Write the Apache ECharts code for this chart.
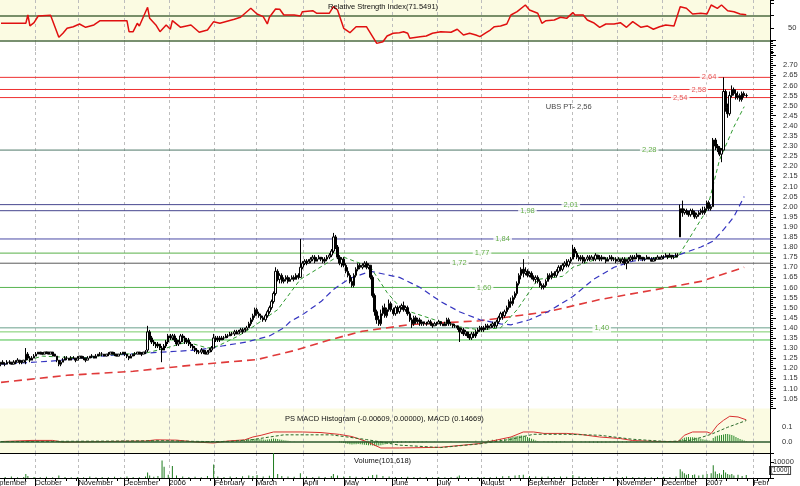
<!DOCTYPE html>
<html><head><meta charset="utf-8">
<script src="https://cdn.jsdelivr.net/npm/echarts@6/dist/echarts.min.js"></script>
<style>html,body{margin:0;padding:0;background:#fff}#c{width:800px;height:486px}</style>
</head><body><div id="c"></div>
<script>
// ---------- categories: trading days (weekdays) shown on the axis ----------
const firstDay = '2005-09-08', lastDay = '2007-02-12';
const categories = [];
for (let t = Date.parse(firstDay + 'T00:00:00Z'); t <= Date.parse(lastDay + 'T00:00:00Z'); t += 86400000) {
  const d = new Date(t), w = d.getUTCDay();
  if (w > 0 && w < 6) categories.push(d.toISOString().slice(0, 10));
}
const monthNames = ['January','February','March','April','May','June','July','August','September','October','November','December'];
const leadLabelDay = '2005-09-27';   // label for the month already running at the left edge (ends here)
const cutLabelDay = '2007-02-01';    // last month label, cut by the plot edge

// ---------- price candles [open, close, low, high] ----------
const candles = [
[1.22,1.23,1.21,1.23],[1.23,1.22,1.22,1.24],[1.22,1.22,1.21,1.23],[1.22,1.23,1.22,1.24],[1.23,1.23,1.22,1.24],[1.23,1.22,1.22,1.23],[1.22,1.23,1.22,1.24],[1.23,1.23,1.22,1.24],[1.23,1.24,1.23,1.25],[1.24,1.23,1.22,1.24],
[1.23,1.23,1.22,1.24],[1.23,1.24,1.23,1.24],[1.24,1.27,1.22,1.30],[1.27,1.25,1.24,1.28],[1.25,1.24,1.23,1.26],[1.24,1.25,1.24,1.26],[1.25,1.26,1.25,1.27],[1.26,1.27,1.26,1.28],[1.27,1.28,1.27,1.28],[1.28,1.27,1.27,1.28],
[1.27,1.27,1.27,1.28],[1.27,1.28,1.27,1.28],[1.28,1.28,1.27,1.28],[1.28,1.27,1.27,1.28],[1.27,1.28,1.27,1.28],[1.28,1.27,1.26,1.28],[1.27,1.26,1.26,1.27],[1.26,1.24,1.23,1.26],[1.24,1.22,1.21,1.24],[1.22,1.23,1.21,1.24],
[1.23,1.24,1.23,1.25],[1.24,1.25,1.24,1.26],[1.25,1.25,1.24,1.26],[1.25,1.24,1.24,1.25],[1.24,1.25,1.24,1.26],[1.25,1.25,1.25,1.26],[1.25,1.24,1.23,1.25],[1.24,1.25,1.24,1.26],[1.25,1.26,1.25,1.26],[1.26,1.25,1.25,1.26],
[1.25,1.25,1.24,1.26],[1.25,1.24,1.23,1.25],[1.24,1.25,1.24,1.26],[1.25,1.26,1.25,1.26],[1.26,1.26,1.25,1.27],[1.26,1.25,1.25,1.26],[1.25,1.26,1.25,1.27],[1.26,1.27,1.26,1.27],[1.27,1.27,1.26,1.28],[1.27,1.27,1.26,1.28],
[1.27,1.26,1.26,1.27],[1.26,1.27,1.26,1.27],[1.27,1.27,1.26,1.28],[1.27,1.28,1.27,1.28],[1.28,1.27,1.27,1.28],[1.27,1.27,1.26,1.28],[1.27,1.26,1.26,1.27],[1.26,1.27,1.26,1.27],[1.27,1.27,1.27,1.28],[1.27,1.28,1.27,1.28],
[1.28,1.27,1.26,1.28],[1.27,1.26,1.25,1.27],[1.26,1.25,1.24,1.26],[1.25,1.26,1.25,1.27],[1.26,1.27,1.26,1.27],[1.27,1.27,1.26,1.28],[1.27,1.28,1.27,1.28],[1.28,1.27,1.27,1.28],[1.27,1.27,1.26,1.28],[1.27,1.28,1.27,1.28],
[1.28,1.28,1.27,1.29],[1.29,1.38,1.28,1.41],[1.38,1.35,1.34,1.39],[1.35,1.33,1.32,1.36],[1.33,1.32,1.31,1.34],[1.32,1.31,1.30,1.33],[1.31,1.32,1.30,1.33],[1.32,1.30,1.29,1.32],[1.30,1.29,1.23,1.31],[1.29,1.31,1.29,1.32],
[1.31,1.33,1.30,1.34],[1.33,1.36,1.32,1.37],[1.36,1.35,1.34,1.37],[1.35,1.36,1.34,1.37],[1.36,1.34,1.33,1.37],[1.34,1.32,1.31,1.35],[1.32,1.33,1.31,1.34],[1.33,1.36,1.32,1.37],[1.36,1.35,1.33,1.37],[1.35,1.33,1.32,1.36],
[1.33,1.34,1.32,1.35],[1.34,1.32,1.31,1.35],[1.32,1.31,1.30,1.33],[1.31,1.30,1.29,1.32],[1.30,1.29,1.28,1.31],[1.29,1.28,1.27,1.30],[1.28,1.28,1.27,1.29],[1.28,1.29,1.27,1.30],[1.29,1.28,1.27,1.29],[1.28,1.27,1.27,1.29],
[1.27,1.28,1.27,1.29],[1.28,1.29,1.28,1.30],[1.29,1.30,1.28,1.31],[1.30,1.35,1.30,1.37],[1.35,1.34,1.33,1.36],[1.34,1.35,1.33,1.36],[1.35,1.34,1.33,1.36],[1.34,1.35,1.34,1.36],[1.35,1.35,1.34,1.36],[1.35,1.36,1.35,1.37],
[1.36,1.36,1.35,1.37],[1.36,1.37,1.36,1.38],[1.37,1.37,1.36,1.38],[1.37,1.38,1.36,1.39],[1.38,1.37,1.37,1.39],[1.37,1.38,1.37,1.39],[1.38,1.39,1.38,1.40],[1.39,1.38,1.37,1.40],[1.38,1.39,1.38,1.40],[1.39,1.40,1.39,1.41],
[1.40,1.42,1.40,1.43],[1.42,1.44,1.41,1.45],[1.44,1.46,1.43,1.47],[1.46,1.49,1.45,1.50],[1.49,1.47,1.46,1.50],[1.47,1.46,1.45,1.48],[1.46,1.45,1.44,1.47],[1.45,1.44,1.43,1.46],[1.44,1.46,1.43,1.47],[1.46,1.48,1.45,1.49],
[1.48,1.50,1.47,1.51],[1.50,1.53,1.49,1.54],[1.53,1.57,1.52,1.58],[1.57,1.68,1.56,1.70],[1.68,1.64,1.63,1.69],[1.64,1.66,1.62,1.67],[1.66,1.63,1.62,1.67],[1.63,1.64,1.62,1.65],[1.64,1.65,1.63,1.66],[1.65,1.63,1.62,1.66],
[1.63,1.64,1.63,1.65],[1.64,1.65,1.64,1.66],[1.65,1.64,1.63,1.66],[1.64,1.66,1.64,1.67],[1.66,1.65,1.64,1.67],[1.65,1.70,1.65,1.84],[1.70,1.72,1.69,1.73],[1.72,1.73,1.71,1.74],[1.73,1.72,1.71,1.74],[1.72,1.73,1.72,1.74],
[1.73,1.74,1.72,1.75],[1.74,1.75,1.73,1.76],[1.75,1.73,1.72,1.76],[1.73,1.74,1.73,1.75],[1.74,1.75,1.74,1.76],[1.75,1.74,1.73,1.75],[1.74,1.73,1.72,1.75],[1.73,1.74,1.72,1.75],[1.74,1.75,1.73,1.76],[1.75,1.76,1.74,1.77],
[1.76,1.78,1.75,1.79],[1.78,1.85,1.77,1.87],[1.85,1.80,1.79,1.86],[1.80,1.75,1.74,1.81],[1.75,1.72,1.71,1.76],[1.72,1.74,1.70,1.75],[1.74,1.71,1.70,1.75],[1.71,1.68,1.67,1.72],[1.68,1.66,1.65,1.70],[1.66,1.63,1.62,1.67],
[1.63,1.61,1.60,1.65],[1.61,1.66,1.60,1.67],[1.66,1.69,1.65,1.70],[1.69,1.71,1.68,1.72],[1.71,1.70,1.69,1.72],[1.70,1.71,1.69,1.72],[1.71,1.72,1.70,1.73],[1.72,1.70,1.69,1.73],[1.70,1.71,1.69,1.72],[1.71,1.65,1.64,1.71],
[1.65,1.56,1.55,1.66],[1.56,1.48,1.46,1.57],[1.48,1.44,1.42,1.49],[1.44,1.42,1.41,1.46],[1.42,1.47,1.41,1.49],[1.47,1.50,1.46,1.51],[1.50,1.46,1.45,1.52],[1.46,1.49,1.45,1.50],[1.49,1.52,1.48,1.54],[1.52,1.49,1.48,1.53],
[1.49,1.47,1.46,1.50],[1.47,1.50,1.46,1.51],[1.50,1.48,1.47,1.51],[1.48,1.50,1.47,1.51],[1.50,1.51,1.49,1.52],[1.51,1.49,1.48,1.53],[1.49,1.50,1.48,1.51],[1.50,1.47,1.46,1.51],[1.47,1.44,1.43,1.48],[1.44,1.42,1.40,1.45],
[1.42,1.45,1.41,1.46],[1.45,1.43,1.42,1.46],[1.43,1.44,1.42,1.45],[1.44,1.42,1.41,1.45],[1.42,1.43,1.41,1.44],[1.43,1.42,1.41,1.43],[1.42,1.42,1.41,1.43],[1.42,1.43,1.42,1.44],[1.43,1.42,1.41,1.44],[1.42,1.41,1.40,1.42],
[1.41,1.42,1.41,1.43],[1.42,1.42,1.41,1.43],[1.42,1.43,1.42,1.44],[1.43,1.42,1.41,1.43],[1.42,1.41,1.41,1.42],[1.41,1.42,1.41,1.43],[1.42,1.44,1.41,1.45],[1.44,1.42,1.41,1.45],[1.42,1.42,1.41,1.43],[1.42,1.41,1.40,1.42],
[1.41,1.41,1.40,1.42],[1.41,1.40,1.39,1.41],[1.40,1.38,1.33,1.40],[1.38,1.39,1.37,1.40],[1.39,1.37,1.36,1.40],[1.37,1.38,1.36,1.39],[1.38,1.36,1.35,1.38],[1.36,1.35,1.34,1.37],[1.35,1.37,1.34,1.38],[1.37,1.36,1.35,1.38],
[1.36,1.38,1.35,1.39],[1.38,1.39,1.37,1.40],[1.39,1.40,1.38,1.41],[1.40,1.39,1.38,1.41],[1.39,1.40,1.38,1.41],[1.40,1.41,1.39,1.42],[1.41,1.40,1.39,1.42],[1.40,1.41,1.40,1.42],[1.41,1.42,1.40,1.43],[1.42,1.41,1.40,1.43],
[1.41,1.43,1.40,1.44],[1.43,1.45,1.42,1.46],[1.45,1.47,1.44,1.48],[1.47,1.46,1.44,1.48],[1.46,1.48,1.45,1.49],[1.48,1.50,1.47,1.51],[1.50,1.53,1.49,1.54],[1.53,1.52,1.50,1.55],[1.52,1.55,1.51,1.56],[1.55,1.57,1.54,1.58],
[1.57,1.62,1.56,1.63],[1.62,1.66,1.61,1.67],[1.66,1.69,1.64,1.70],[1.69,1.67,1.65,1.74],[1.67,1.68,1.66,1.70],[1.68,1.66,1.65,1.69],[1.66,1.67,1.65,1.68],[1.67,1.65,1.64,1.68],[1.65,1.64,1.63,1.66],[1.64,1.65,1.62,1.66],
[1.65,1.63,1.62,1.66],[1.63,1.61,1.60,1.64],[1.61,1.60,1.59,1.62],[1.60,1.61,1.59,1.62],[1.61,1.63,1.60,1.64],[1.63,1.66,1.63,1.67],[1.66,1.65,1.64,1.67],[1.65,1.67,1.64,1.68],[1.67,1.66,1.65,1.68],[1.66,1.68,1.65,1.69],
[1.68,1.70,1.67,1.71],[1.70,1.69,1.68,1.71],[1.69,1.71,1.68,1.72],[1.71,1.72,1.70,1.73],[1.72,1.71,1.70,1.74],[1.71,1.73,1.70,1.74],[1.73,1.74,1.72,1.75],[1.74,1.79,1.74,1.81],[1.79,1.77,1.75,1.80],[1.77,1.75,1.74,1.78],
[1.75,1.74,1.73,1.76],[1.74,1.75,1.73,1.76],[1.75,1.73,1.72,1.76],[1.73,1.74,1.72,1.75],[1.74,1.75,1.73,1.76],[1.75,1.74,1.73,1.76],[1.74,1.75,1.74,1.76],[1.75,1.74,1.73,1.75],[1.74,1.76,1.73,1.77],[1.76,1.75,1.74,1.76],
[1.75,1.74,1.73,1.76],[1.74,1.75,1.73,1.76],[1.75,1.74,1.74,1.75],[1.74,1.73,1.72,1.75],[1.73,1.74,1.73,1.75],[1.74,1.75,1.74,1.76],[1.75,1.74,1.73,1.76],[1.74,1.74,1.73,1.75],[1.74,1.73,1.72,1.75],[1.73,1.74,1.73,1.75],
[1.74,1.73,1.72,1.74],[1.73,1.74,1.72,1.75],[1.74,1.72,1.71,1.75],[1.72,1.73,1.69,1.74],[1.73,1.74,1.72,1.75],[1.74,1.75,1.73,1.76],[1.75,1.74,1.73,1.76],[1.74,1.75,1.74,1.76],[1.75,1.76,1.74,1.77],[1.76,1.74,1.73,1.76],
[1.74,1.75,1.74,1.76],[1.75,1.74,1.73,1.75],[1.74,1.74,1.73,1.75],[1.74,1.75,1.74,1.76],[1.75,1.74,1.74,1.75],[1.74,1.73,1.73,1.75],[1.73,1.74,1.73,1.75],[1.74,1.74,1.73,1.75],[1.74,1.75,1.74,1.76],[1.75,1.74,1.74,1.75],
[1.74,1.75,1.74,1.76],[1.75,1.75,1.74,1.76],[1.75,1.76,1.75,1.77],[1.76,1.75,1.74,1.76],[1.75,1.76,1.75,1.77],[1.76,1.75,1.74,1.76],[1.75,1.75,1.74,1.76],[1.75,1.76,1.75,1.77],[1.76,1.76,1.75,1.77],[1.85,1.99,1.85,2.01],
[1.99,1.97,1.95,2.03],[1.97,1.98,1.96,1.99],[1.98,1.97,1.96,1.99],[1.97,1.96,1.95,1.98],[1.96,1.98,1.95,1.99],[1.98,1.97,1.96,1.99],[1.97,1.95,1.94,1.98],[1.95,1.96,1.94,1.97],[1.96,1.97,1.95,1.98],[1.97,1.98,1.96,1.99],
[1.98,1.97,1.96,2.00],[1.97,1.99,1.96,2.00],[1.99,2.02,1.98,2.03],[2.02,1.99,1.98,2.03],[1.99,2.00,1.98,2.01],[2.00,2.33,2.00,2.34],[2.33,2.30,2.28,2.34],[2.30,2.29,2.27,2.31],[2.29,2.26,2.25,2.30],[2.26,2.28,2.22,2.29],
[2.28,2.57,2.28,2.64],[2.57,2.49,2.47,2.58],[2.49,2.46,2.44,2.51],[2.46,2.55,2.45,2.57],[2.55,2.58,2.54,2.60],[2.58,2.56,2.55,2.59],[2.56,2.54,2.53,2.58],[2.54,2.55,2.53,2.57],[2.55,2.53,2.52,2.56],[2.53,2.56,2.52,2.57],
[2.56,2.55,2.54,2.57],[2.55,2.55,2.54,2.56]
];

// ---------- moving averages [day index, price] ----------
const maShort = [[10,1.23],[20,1.26],[30,1.255],[40,1.25],[50,1.265],[60,1.27],[70,1.275],[80,1.30],[90,1.33],[100,1.30],[105,1.31],[115,1.36],[122,1.405],[134,1.49],[145,1.64],[161,1.74],[166,1.75],[179,1.70],[187,1.575],[193,1.505],[198,1.48],[210,1.44],[222,1.405],[232,1.39],[242,1.40],[250,1.49],[260,1.64],[272,1.655],[277,1.70],[290,1.745],[310,1.745],[328,1.75],[329,1.77],[342,1.985],[348,2.23],[355,2.395],[360,2.495]];
const maMid = [[0,1.22],[24,1.235],[48,1.26],[62,1.27],[78,1.28],[95,1.29],[107,1.31],[119,1.33],[130,1.36],[137,1.40],[140,1.43],[146,1.465],[155,1.53],[161,1.59],[169,1.645],[179,1.68],[193,1.65],[203,1.60],[213,1.53],[222,1.48],[232,1.44],[242,1.42],[247,1.415],[256,1.44],[265,1.48],[277,1.555],[287,1.64],[297,1.70],[306,1.73],[328,1.76],[339,1.80],[345,1.83],[350,1.886],[355,1.95],[360,2.05]];
const maLong = [[0,1.13],[32,1.165],[64,1.185],[95,1.218],[124,1.243],[143,1.29],[159,1.34],[175,1.383],[198,1.416],[232,1.435],[265,1.48],[290,1.54],[323,1.60],[339,1.63],[360,1.70]];

// ---------- horizontal levels and their notes ----------
const levelValues = [2.64, 2.58, 2.54, 2.28, 2.01, 1.98, 1.84, 1.77, 1.72, 1.60, 1.40, 1.38, 1.34];
const levelLabels = ['2,64','2,58','2,54','2,28','2,01','1,98','1,84','1,77','1,72','1,60','1,40','',''];
const levelLabelDays = [343, 338, 329, 314, 276, 255, 243, 233, 222, 234, 291, null, null];
const noteText = 'UBS PT- 2,56', noteDay = 275, notePrice = 2.494;

// ---------- RSI [day index, value] ----------
const rsi = [[0,57.6],[12,57.6],[13,71.1],[14,53.3],[16,58.6],[18,69.5],[24,70.6],[28,34.9],[30,41.4],[32,49.5],[35,52.1],[38,56.5],[41,51.1],[45,54.9],[48,61.9],[61,61.9],[62,44],[64,44],[66,57.6],[67,53.3],[71,83.6],[72,65.7],[75,54.9],[77,44],[80,54.9],[82,47.9],[83,61.9],[87,51.1],[92,54.9],[96,43],[100,46.7],[103,60.3],[106,57.6],[113,64.1],[116,67.4],[121,82],[124,72.8],[127,68.4],[129,56.5],[130,67.4],[133,80.9],[135,80.4],[137,71.1],[142,71.1],[145,69.5],[146,76.5],[151,78.1],[153,73.9],[159,73.9],[161,84.6],[163,79.3],[166,49.5],[169,42.4],[172,52.1],[177,52.1],[182,25],[185,27.7],[187,37],[190,41.4],[193,42.4],[195,44],[197,41.4],[198,33.2],[203,35.9],[206,37],[209,41.4],[213,44],[218,43],[221,47.9],[224,38.6],[227,41.4],[230,38.6],[232,35.9],[235,42.4],[237,46.7],[239,52.1],[242,53.3],[245,56.5],[247,71.1],[250,76.5],[254,87.4],[256,79.3],[260,73.9],[262,57.6],[264,61.9],[268,63],[271,67.4],[274,65.7],[277,75],[278,71.1],[282,71.1],[284,63],[287,58.6],[290,51.1],[293,56.5],[297,56.5],[300,58.6],[303,51.1],[306,60.3],[310,51.1],[313,53.3],[316,47.9],[319,52.1],[322,54.9],[326,53.3],[329,84.6],[332,82],[335,72.8],[339,73.9],[342,72.8],[344,87.4],[347,82],[349,87.4],[352,78.1],[355,76.5],[358,72.8],[361,71.5]];
const rsiLevels = [70, 30];

// ---------- MACD ----------
const macd = [[0,0.0],[15,0.008],[25,0.008],[30,-0.004],[50,0.0],[70,0.004],[75,0.012],[85,0.01],[95,-0.004],[103,-0.01],[110,0.004],[118,0.012],[122,0.032],[126,0.044],[132,0.067],[146,0.067],[155,0.063],[164,0.05],[170,0.035],[177,0.0],[184,-0.045],[193,-0.045],[213,-0.04],[232,-0.014],[247,0.032],[253,0.067],[258,0.067],[263,0.057],[274,0.057],[280,0.051],[290,0.032],[300,0.021],[306,0.007],[319,0.0],[328,0.0],[331,0.044],[335,0.067],[342,0.067],[344,0.056],[347,0.114],[350,0.149],[353,0.177],[357,0.172],[361,0.152]];
const macdSignal = [[0,0.0],[50,0.003],[80,0.006],[100,0.0],[110,0.0],[122,0.014],[137,0.047],[160,0.047],[177,0.014],[193,-0.025],[213,-0.042],[232,-0.016],[247,0.016],[258,0.051],[274,0.051],[290,0.044],[306,0.016],[323,0.0],[333,0.007],[339,0.028],[344,0.051],[352,0.10],[361,0.147]];
const macdHist = [[12,0.004],[13,0.006],[14,0.004],[15,0.003],[28,-0.004],[29,-0.005],[30,-0.004],[31,-0.003],[72,0.004],[73,0.005],[74,0.004],[75,0.006],[76,0.005],[77,0.003],[86,-0.003],[87,-0.004],[92,-0.003],[96,-0.005],[97,-0.006],[98,-0.005],[99,-0.006],[100,-0.004],[101,-0.003],
[105,0.003],[106,0.004],[108,0.005],[110,0.006],[112,0.008],[114,0.01],[116,0.009],[118,0.011],[119,0.012],[120,0.014],[121,0.016],[122,0.018],[123,0.02],[124,0.019],[125,0.017],[126,0.016],[127,0.014],[128,0.013],[129,0.015],[130,0.017],[131,0.019],[132,0.022],[133,0.02],[134,0.018],[135,0.015],[136,0.012],[137,0.01],[138,0.008],[139,0.006],[140,0.004],[142,0.003],
[164,-0.004],[165,-0.007],[166,-0.01],[167,-0.013],[168,-0.016],[169,-0.018],[170,-0.02],[171,-0.019],[172,-0.018],[173,-0.017],[174,-0.018],[175,-0.02],[176,-0.022],[177,-0.024],[178,-0.025],[179,-0.026],[180,-0.028],[181,-0.03],[182,-0.03],[183,-0.028],[184,-0.025],[185,-0.022],[186,-0.019],[187,-0.016],[188,-0.014],[189,-0.012],[190,-0.01],[192,-0.008],[194,-0.006],[196,-0.005],[198,-0.006],[200,-0.007],[202,-0.006],[204,-0.004],[206,-0.003],[210,0.002],[214,0.003],[218,0.004],[222,0.002],[226,0.004],[230,0.006],[233,0.008],[236,0.01],[238,0.012],[240,0.014],[242,0.018],[244,0.022],[246,0.027],[247,0.03],[248,0.033],[249,0.036],[250,0.039],[251,0.041],[252,0.042],[253,0.04],[254,0.036],[255,0.032],[256,0.026],[257,0.02],[258,0.014],[259,0.008],[260,0.004],
[263,-0.003],[265,-0.004],[267,-0.005],[269,-0.006],[271,-0.004],[273,-0.003],[276,0.003],[277,0.005],[278,0.004],[281,-0.004],[283,-0.005],[285,-0.006],[287,-0.007],[289,-0.008],[291,-0.007],[293,-0.006],[295,-0.005],[297,-0.004],[299,-0.004],[301,-0.005],[303,-0.004],[305,-0.003],[308,-0.003],[311,-0.002],[314,0.002],[317,0.002],[320,0.003],[323,0.002],[326,0.003],
[329,0.012],[330,0.02],[331,0.026],[332,0.03],[333,0.032],[334,0.031],[335,0.03],[336,0.028],[337,0.026],[338,0.022],[339,0.02],[340,0.016],[341,0.012],[342,0.01],[343,0.008],[344,0.006],[345,0.025],[346,0.035],[347,0.04],[348,0.044],[349,0.046],[350,0.05],[351,0.052],[352,0.052],[353,0.05],[354,0.046],[355,0.04],[356,0.032],[357,0.025],[358,0.018],[359,0.012],[360,0.008],[361,0.004]];

// ---------- volume (x1000) ----------
const volume = [[2,600],[5,900],[8,500],[11,700],[12,2500],[13,1200],[16,600],[19,400],[22,800],[25,500],[28,1500],[31,600],[34,400],[37,700],[40,500],[43,900],[46,400],[49,600],[52,500],[55,800],[58,400],[61,1000],[64,600],[67,500],[70,900],[71,3500],[72,1500],[74,800],[76,1200],[78,11000],[79,7000],[81,2000],[83,7500],[85,1500],[88,900],[91,600],[94,800],[97,500],[100,1200],[103,8500],[105,1000],[108,700],[111,900],[114,600],[117,1100],[120,1500],[122,1200],[124,1800],[127,1000],[130,1400],[132,20000],[134,2500],[136,1200],[139,900],[142,800],[145,3000],[148,1000],[151,700],[154,900],[157,600],[160,1200],[161,2500],[163,1500],[166,1000],[169,1200],[172,800],[175,600],[178,900],[180,1800],[182,2000],[185,1300],[188,900],[191,700],[194,600],[197,800],[200,700],[203,500],[206,600],[209,400],[212,700],[215,500],[218,600],[221,800],[222,1500],[225,700],[228,500],[231,600],[234,700],[237,500],[240,800],[243,1100],[246,1300],[249,1500],[251,1800],[253,2000],[256,1200],[259,900],[262,800],[265,1000],[268,700],[271,900],[274,800],[277,1800],[280,900],[283,600],[286,700],[289,500],[292,600],[295,800],[298,500],[301,700],[303,1000],[306,600],[309,500],[312,700],[315,500],[318,600],[321,800],[324,700],[327,900],[329,5500],[330,4000],[331,3000],[332,2000],[333,2500],[335,1800],[336,2200],[338,1500],[340,2000],[342,2500],[344,3000],[345,8000],[346,4000],[347,2500],[348,3000],[349,2000],[350,5000],[351,3500],[352,2500],[353,2000],[354,2500],[355,1500],[357,2000],[359,1200],[361,1800]];

// ---------- styles ----------
const FONT = 'Liberation Sans, Arial, sans-serif';
const levelColors = ['#ee3030','#ee3030','#ee3030','#4f7868','#46468e','#46468e','#4b4ba6','#58b048','#5a5a5a','#58b450','#6aa08c','#78cc68','#44c044'];
const labelColors = ['#e02a2a','#e02a2a','#e02a2a','#3f9a1c','#3f9a1c','#3f9a1c','#3f9a1c','#3f9a1c','#3f9a1c','#3f9a1c','#3f9a1c','#3f9a1c','#3f9a1c'];
const panelYellow = '#fbfbe2';
const labelFont = {fontSize: 7.5, color: '#111', fontFamily: FONT};

// ---------- day-index x axis built from the trading-day list ----------
const N = categories.length;
const xMin = -0.5, xMax = N - 0.5;
const dayIdx = categories.map((c, i) => i);
const isMonthStart = i => i > 0 && categories[i].slice(0, 7) !== categories[i - 1].slice(0, 7);
const isMonday = i => new Date(categories[i] + 'T00:00:00Z').getUTCDay() === 1;
const boundaries = dayIdx.filter(isMonthStart).map(i => i - 0.5);
const mondayTicks = dayIdx.filter(isMonday).map(i => i - 0.5);
const cutIdx = categories.indexOf(cutLabelDay);
const leadIdx = categories.indexOf(leadLabelDay);
const labelBounds = boundaries.filter(b => b !== cutIdx - 0.5);
const monthLabel = c => { const m = +c.slice(5, 7); return m === 1 ? c.slice(0, 4) : monthNames[m - 1]; };
const labelAt = v => monthLabel(categories[Math.round(v + 0.5)]);

function dayAxis(gridIndex, extra) {
  return Object.assign({
    type: 'value', gridIndex, min: xMin, max: xMax,
    axisLine: {show: false, onZero: false},
    axisTick: {show: false, customValues: boundaries},
    axisLabel: {show: false},
    splitLine: {show: true, lineStyle: {color: '#bdbdbd', type: [3, 3], width: 1}}
  }, extra || {});
}

const annotations = levelValues.map((v, k) => levelLabels[k] ? {
  value: [levelLabelDays[k], v, levelLabels[k]], label: {color: labelColors[k], backgroundColor: '#ffffff'}
} : null).filter(Boolean);
annotations.push({value: [noteDay, notePrice, noteText], label: {color: '#111', backgroundColor: 'transparent'}});

// each level is a horizontal line across the whole day axis
const levelSeries = levelValues.map((v, k) => ({
  name: 'level ' + levelLabels[k], type: 'line', xAxisIndex: 1, yAxisIndex: 1, silent: true, z: 1,
  data: [[xMin, v], [xMax, v]], symbol: 'none', color: levelColors[k],
  lineStyle: {color: levelColors[k], width: 1, type: 'solid'}
}));

const gridBase = {left: 0, right: 30, show: true, borderWidth: 0, containLabel: false, outerBoundsMode: 'none'};

const chart = echarts.init(document.getElementById('c'), null, {renderer: 'canvas'});
chart.setOption({
  animation: false,
  backgroundColor: '#ffffff',
  textStyle: {fontFamily: FONT},
  title: [
    {text: 'Relative Strength Index(71.5491)', left: 328, top: 3, padding: 0, textStyle: {fontSize: 7.5, fontWeight: 'normal', color: '#111', fontFamily: FONT}},
    {text: 'PS MACD Histogram (-0.00609, 0.00000), MACD (0.14669)', left: 285, top: 415, padding: 0, textStyle: {fontSize: 7.5, fontWeight: 'normal', color: '#111', fontFamily: FONT}},
    {text: 'Volume(101,618)', left: 354, top: 457, padding: 0, textStyle: {fontSize: 7.5, fontWeight: 'normal', color: '#111', fontFamily: FONT}}
  ],
  grid: [
    Object.assign({top: 0, height: 52.6, backgroundColor: panelYellow}, gridBase),
    Object.assign({top: 40, height: 368.65, backgroundColor: '#ffffff'}, gridBase),
    Object.assign({top: 408.6, height: 44.4, backgroundColor: panelYellow}, gridBase),
    Object.assign({top: 453, height: 25, backgroundColor: '#ffffff'}, gridBase)
  ],
  xAxis: [
    dayAxis(0),
    dayAxis(1),
    dayAxis(2, {axisLine: {show: true, onZero: false, lineStyle: {color: '#000', width: 1}}}),
    dayAxis(3, {position: 'bottom',
      axisLine: {show: true, onZero: false, lineStyle: {color: '#000', width: 1}},
      axisTick: {show: true, customValues: boundaries, length: 9, lineStyle: {color: '#000'}},
      axisLabel: Object.assign({show: true, customValues: labelBounds, formatter: labelAt, align: 'left', verticalAlign: 'top', margin: 1}, labelFont)}),
    dayAxis(3, {position: 'bottom', splitLine: {show: false},
      axisTick: {show: true, customValues: mondayTicks, length: 3, lineStyle: {color: '#000'}}}),
    dayAxis(3, {position: 'bottom', splitLine: {show: false},
      axisLabel: Object.assign({show: true, customValues: [leadIdx - 0.5], formatter: labelAt, align: 'right', verticalAlign: 'top', margin: 1}, labelFont)}),
    dayAxis(3, {position: 'bottom', splitLine: {show: false},
      axisLabel: Object.assign({show: true, customValues: [cutIdx - 0.5], formatter: labelAt, align: 'left', verticalAlign: 'top', margin: 1,
        width: 18, overflow: 'truncate', ellipsis: ''}, labelFont)})
  ],
  yAxis: [
    {type: 'value', gridIndex: 0, position: 'right', min: 10, max: 95.5, interval: 20,
      axisLine: {show: true, onZero: false, lineStyle: {color: '#000'}}, axisTick: {show: true, length: 4, lineStyle: {color: '#000'}},
      axisLabel: {formatter: (v) => Math.abs(v - 50) < 1e-6 ? '50' : '', margin: 18, fontSize: 7.5, color: '#333'},
      splitLine: {show: false}},
    {type: 'value', gridIndex: 1, position: 'right', min: 1.0, max: 2.825, interval: 0.05,
      axisLine: {show: true, onZero: false, lineStyle: {color: '#000'}},
      axisTick: {show: true, length: 6, lineStyle: {color: '#000'}},
      minorTick: {show: true, splitNumber: 5, length: 3, lineStyle: {color: '#000'}},
      axisLabel: {formatter: (v) => (v > 1.04 && v < 2.71) ? v.toFixed(2) : '', margin: 13, fontSize: 7.5, color: '#333'},
      splitLine: {show: false}},
    {type: 'value', gridIndex: 2, position: 'right', min: -0.08, max: 0.2305, interval: 0.02,
      axisLine: {show: true, onZero: false, lineStyle: {color: '#000'}}, axisTick: {show: false},
      axisLabel: {formatter: (v) => Math.abs(v) < 1e-6 ? '0.0' : (Math.abs(v - 0.1) < 1e-6 ? '0.1' : ''), margin: 12, fontSize: 7.5, color: '#333'},
      splitLine: {show: false}},
    {type: 'value', gridIndex: 3, position: 'right', min: 0, max: 15625, interval: 10000,
      axisLine: {show: true, onZero: false, lineStyle: {color: '#000'}}, axisTick: {show: true, length: 4, lineStyle: {color: '#000'}},
      axisLabel: {formatter: (v) => v === 10000 ? '10000' : '', margin: 3, fontSize: 7.5, color: '#333'},
      splitLine: {show: false},
      name: '[1000]', nameLocation: 'start', nameRotate: 0, nameGap: -4, nameMoveOverlap: false,
      nameTextStyle: {fontSize: 6.5, color: '#222', align: 'left', verticalAlign: 'bottom', borderColor: '#444', borderWidth: 1, padding: [0, 1, 0, 1], backgroundColor: '#fff'}}
  ],
  series: [
    {name: 'RSI', type: 'line', xAxisIndex: 0, yAxisIndex: 0, data: rsi, symbol: 'none', z: 4,
      lineStyle: {color: '#e01010', width: 1.5},
      markLine: {silent: true, symbol: ['none', 'none'], label: {show: false}, z: 3,
        lineStyle: {color: '#4d6b40', width: 1.5, type: 'solid'}, data: rsiLevels.map(v => ({yAxis: v}))}}
  ].concat(levelSeries, [
    {name: 'MA long', type: 'line', xAxisIndex: 1, yAxisIndex: 1, data: maLong, symbol: 'none', z: 2,
      lineStyle: {color: '#e03a3a', width: 1.6, type: [8, 5]}},
    {name: 'MA mid', type: 'line', xAxisIndex: 1, yAxisIndex: 1, data: maMid, symbol: 'none', z: 2,
      lineStyle: {color: '#3535c0', width: 1.2, type: [6, 4]}},
    {name: 'MA short', type: 'line', xAxisIndex: 1, yAxisIndex: 1, data: maShort, symbol: 'none', z: 2,
      lineStyle: {color: '#2e9a2e', width: 1, type: [4, 3]}},
    {name: 'price', type: 'candlestick', xAxisIndex: 1, yAxisIndex: 1, data: candles.map((c, i) => [i].concat(c)), barWidth: 2, z: 3,
      itemStyle: {color: '#ffffff', color0: '#000000', borderColor: '#000000', borderColor0: '#000000', borderWidth: 1}},
    {name: 'notes', type: 'scatter', xAxisIndex: 1, yAxisIndex: 1, data: annotations, symbolSize: 1, z: 6,
      itemStyle: {color: 'transparent'},
      label: {show: true, position: 'inside', formatter: (p) => p.value[2], fontSize: 7.5, fontFamily: FONT, padding: [1, 2]}},
    {name: 'hist', type: 'bar', xAxisIndex: 2, yAxisIndex: 2, data: macdHist, barWidth: 1, z: 2,
      itemStyle: {color: '#2b8c2b'}},
    {name: 'MACD', type: 'line', xAxisIndex: 2, yAxisIndex: 2, data: macd, symbol: 'none', z: 4,
      lineStyle: {color: '#d83030', width: 1},
      markLine: {silent: true, symbol: ['none', 'none'], label: {show: false},
        lineStyle: {color: '#2d5a2d', width: 1.5, type: 'solid'}, data: [{yAxis: 0}]}},
    {name: 'signal', type: 'line', xAxisIndex: 2, yAxisIndex: 2, data: macdSignal, symbol: 'none', z: 4,
      lineStyle: {color: '#2a6a2a', width: 1, type: [3, 2]}},
    {name: 'volume', type: 'bar', xAxisIndex: 3, yAxisIndex: 3, data: volume, barWidth: 1, z: 2,
      itemStyle: {color: '#1e7b1e'}}
  ])
});
</script>
</body></html>
